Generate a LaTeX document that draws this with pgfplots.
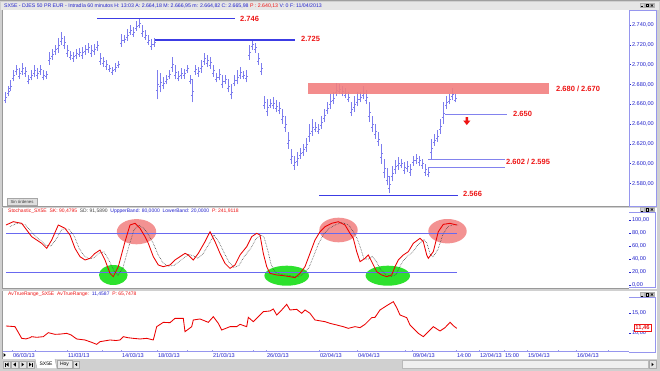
\documentclass[border=0pt]{standalone}
\usepackage{pgfplots}
\usepackage{pgfplotstable}
\pgfplotsset{compat=1.18}
\usepackage{fontspec}
\setmainfont{Liberation Sans}
\definecolor{winbg}{RGB}{208,208,208}
\definecolor{hdrbg}{RGB}{230,230,230}
\definecolor{barcol}{RGB}{125,125,238}
\definecolor{lvdark}{RGB}{60,60,228}
\definecolor{lvlight}{RGB}{130,130,238}
\definecolor{bandcol}{RGB}{105,105,240}
\definecolor{axblue}{RGB}{35,35,205}
\definecolor{frameblue}{RGB}{150,150,238}
\definecolor{stred}{RGB}{235,0,0}
\definecolor{ellred}{RGB}{242,128,128}
\definecolor{ellgreen}{RGB}{45,225,45}
\definecolor{txtred}{RGB}{238,20,20}
\definecolor{dgray}{RGB}{70,70,70}
\newcommand{\fs}[1]{\fontsize{#1}{#1}\selectfont}

\pgfplotstableread{
x lo hi
5 2661 2672
8 2668 2678
10 2673 2684
13 2683 2695
16 2690 2700
19 2685 2697
22 2690 2702
25 2688 2698
28 2680 2690
31 2684 2695
34 2688 2700
37 2686 2697
40 2690 2700
43 2684 2695
46 2686 2694
49 2700 2713
52 2705 2716
55 2710 2720
58 2712 2727
61 2720 2733
64 2716 2729
67 2708 2720
70 2705 2714
73 2703 2713
76 2706 2716
79 2708 2717
82 2706 2718
85 2710 2720
88 2712 2722
91 2708 2720
94 2710 2721
97 2714 2724
100 2700 2712
103 2698 2708
106 2695 2705
109 2693 2700
112 2690 2698
115 2693 2702
118 2697 2704
121 2718 2731
124 2722 2730
127 2724 2736
130 2730 2740
133 2728 2738
136 2734 2744
139 2737 2747
142 2728 2740
145 2725 2735
148 2720 2730
151 2715 2726
154 2718 2727
157 2665 2695
160 2672 2692
163 2675 2688
166 2680 2690
169 2685 2695
172 2693 2708
175 2685 2700
178 2683 2694
181 2686 2697
184 2686 2696
187 2692 2700
190 2680 2690
192 2662 2685
195 2690 2700
198 2688 2698
201 2692 2705
204 2700 2712
207 2698 2710
210 2696 2708
213 2688 2700
216 2682 2692
219 2684 2696
222 2676 2690
225 2680 2690
228 2672 2685
231 2665 2680
234 2678 2690
237 2680 2695
240 2686 2698
243 2685 2694
246 2682 2695
249 2705 2720
252 2715 2726
255 2712 2722
258 2700 2712
261 2690 2702
264 2655 2668
267 2648 2665
270 2656 2665
273 2655 2667
276 2652 2664
279 2650 2662
282 2640 2655
285 2632 2648
288 2615 2632
291 2600 2615
294 2594 2608
297 2598 2612
300 2605 2616
303 2608 2620
306 2612 2626
309 2622 2640
312 2628 2645
315 2632 2642
318 2630 2640
321 2635 2648
324 2642 2655
327 2650 2662
330 2655 2670
333 2660 2672
336 2668 2681
339 2670 2680
342 2668 2678
345 2666 2676
348 2662 2672
351 2648 2662
354 2652 2668
357 2658 2672
360 2662 2672
363 2665 2678
366 2660 2674
369 2642 2662
372 2632 2648
375 2625 2640
378 2618 2632
381 2600 2620
384 2585 2605
387 2578 2596
389 2570 2588
392 2582 2598
395 2590 2604
398 2594 2607
401 2596 2605
404 2590 2602
407 2592 2603
410 2588 2600
413 2598 2608
416 2600 2610
419 2598 2608
422 2595 2605
425 2588 2600
428 2586 2596
431 2605 2625
434 2618 2630
437 2622 2634
440 2630 2645
443 2640 2662
446 2655 2668
449 2660 2670
452 2664 2676
455 2662 2670
}\pricebars

\begin{document}
\begin{tikzpicture}
\begin{scope}[x=1pt,y=-1pt]
\useasboundingbox (0,0) rectangle (660,371);
\fill[winbg] (0,0) rectangle (660,371);
\fill[hdrbg] (1,1.6) rectangle (659,10);
\draw[gray!75, line width=0.6pt] (0,0.8) -- (660,0.8);
% panels
\fill[white] (3,10) rectangle (657,206);
\fill[white] (3,208) rectangle (657,288.5);
\fill[white] (3,291) rectangle (657,358.5);
% frames
\draw[gray!80, line width=0.5pt] (2.7,10) -- (2.7,206.5) -- (629,206.5);
\draw[gray!80, line width=0.5pt] (2.7,208) -- (2.7,288.5) -- (629,288.5);
\draw[gray!80, line width=0.5pt] (2.7,291) -- (2.7,358.5);
\draw[frameblue, line width=0.6pt] (629,10.3) -- (656.5,10.3) -- (656.5,206.5) -- (629,206.5);
\draw[frameblue, line width=0.6pt] (629,212) -- (655.5,212) -- (655.5,287.5) -- (629,287.5);
\draw[frameblue, line width=0.6pt] (629,297.5) -- (655.5,297.5) -- (655.5,352) -- (629,352);
% window buttons
\foreach \yy in {3.5,207.5,292.5}{
  \foreach \xx in {640,645,650}{
    \fill[gray!35] (\xx,\yy) rectangle ++(4,4);
    \draw[gray!60, line width=0.3pt] (\xx,\yy) rectangle ++(4,4);
  }
  \draw[black, line width=0.4pt] (641,\yy+3.2) -- (643,\yy+3.2);
  \draw[black, line width=0.4pt] (645.8,\yy+0.8) rectangle (648.2,\yy+3.2);
  \draw[black, line width=0.4pt] (650.8,\yy+0.8) -- (653.2,\yy+3.2) (650.8,\yy+3.2) -- (653.2,\yy+0.8);
}
% ellipses in stochastic panel
\fill[ellred, opacity=0.85] (136.5,231.7) ellipse [x radius=19.7, y radius=12.6];
\fill[ellred, opacity=0.85] (338.5,230) ellipse [x radius=19.2, y radius=12.3];
\fill[ellred, opacity=0.85] (447.5,231.2) ellipse [x radius=19.2, y radius=12.2];
\fill[ellgreen] (113.3,275) ellipse [x radius=14.3, y radius=10];
\fill[ellgreen] (286.7,275.7) ellipse [x radius=22.3, y radius=10];
\fill[ellgreen] (387.8,275.7) ellipse [x radius=22.2, y radius=10];
% header text
\node[anchor=west, inner sep=0, font=\fs{5.2}] at (4,5.9) {\textcolor{axblue}{SX5E - DJES 50 PR EUR - Intradía 60 minutos H: 13:03 A: 2.664,18 M: 2.666,95 m: 2.664,82 C: 2.665,98} \textcolor{txtred}{P : 2.640,13} \textcolor{axblue}{V: 0 F: 11/04/2013}};
\node[anchor=west, inner sep=0, font=\fs{5}] at (8,211.3) {\textcolor{txtred}{Stochastic\_SX5E\ \ SK: 90,4795}\ \ \textcolor{dgray}{SD: 91,5890}\ \ \textcolor{axblue}{UppperBand: 80,0000\ \ LowerBand: 20,0000}\ \ \textcolor{txtred}{P: 241,9118}};
\node[anchor=west, inner sep=0, font=\fs{5}] at (8,294.3) {\textcolor{txtred}{AvTrueRange\_SX5E\ \ AvTrueRange:}\ \ \textcolor{axblue}{11,4587}\ \ \textcolor{txtred}{P: 65,7478}};
% Sin ordenes button
\fill[gray!25] (7,198.5) rectangle (37,205);
\draw[gray!70, line width=0.4pt] (7,198.5) rectangle (37,205);
\node[inner sep=0, font=\fs{4.3}, text=black!75] at (22,201.8) {Sin órdenes};
% tab bar
\fill[winbg] (0,358.5) rectangle (660,371);
\fill[black] (3.5,353) -- (5.8,355) -- (3.5,357) -- cycle;
\foreach \xx in {3,11,19,27}{
  \fill[gray!20] (\xx,361) rectangle ++(7,7);
  \draw[gray!65, line width=0.3pt] (\xx,361) rectangle ++(7,7);
}
\fill[black] (5,362.5) rectangle (5.6,366.5); \fill[black] (8.5,362.5) -- (6,364.5) -- (8.5,366.5) -- cycle;
\fill[black] (15.8,362.5) -- (13.3,364.5) -- (15.8,366.5) -- cycle;
\fill[black] (21.5,362.5) -- (24,364.5) -- (21.5,366.5) -- cycle;
\fill[black] (29,362.5) -- (31.5,364.5) -- (29,366.5) -- cycle; \fill[black] (32,362.5) rectangle (32.6,366.5);
\fill[white] (35,359) -- (55,359) -- (57,368.5) -- (37,368.5) -- cycle;
\draw[gray!70, line width=0.4pt] (35,359) -- (37,368.5) -- (57,368.5) -- (55,359);
\node[inner sep=0, font=\fs{5}] at (46,363.8) {SX5E};
\fill[gray!15] (57,360) rectangle (72,368.5);
\draw[gray!70, line width=0.4pt] (57,360) rectangle (72,368.5);
\node[inner sep=0, font=\fs{5}] at (64.5,364.2) {Hoy};
\fill[gray!20] (73,361) rectangle (79,368);
\draw[gray!65, line width=0.3pt] (73,361) rectangle (79,368);
\fill[black] (77,362.8) -- (75,364.5) -- (77,366.2) -- cycle;
\fill[gray!12] (402,360.5) rectangle (648,368.5);
\draw[gray!55, line width=0.3pt] (402,360.5) rectangle (648,368.5);
\fill[gray!20] (649,360.5) rectangle (656,368.5);
\draw[gray!65, line width=0.3pt] (649,360.5) rectangle (656,368.5);
\fill[black] (651.5,362.7) -- (653.7,364.5) -- (651.5,366.3) -- cycle;
\end{scope}

% ================= MAIN PRICE PANEL =================
\begin{axis}[
  at={(3pt,-206pt)}, anchor=south west, scale only axis,
  width=626pt, height=196pt,
  xmin=3, xmax=629, ymin=2557.2, ymax=2755.2,
  axis x line=none, axis y line*=right,
  y axis line style={frameblue, line width=0.6pt},
  ytick={2580,2600,2620,2640,2660,2680,2700,2720,2740},
  yticklabels={{2.580,00},{2.600,00},{2.620,00},{2.640,00},{2.660,00},{2.680,00},{2.700,00},{2.720,00},{2.740,00}},
  tick align=outside, major tick length=2pt,
  y tick style={axblue, line width=0.5pt},
  yticklabel style={font=\fs{5.6}, text=axblue, inner sep=0.8pt},
]
\addplot[barcol, line width=0.85pt, mark=none,
  quiver={u=0, v=\thisrow{hi}-\thisrow{lo}}]
  table[x=x, y=lo] {\pricebars};
\addplot[barcol, line width=0.7pt, mark=none,
  quiver={u=1.7, v=0}]
  table[x=x, y expr={(\thisrow{lo}+\thisrow{hi})/2}] {\pricebars};
\addplot[barcol, line width=0.7pt, mark=none,
  quiver={u=-1.5, v=0}]
  table[x=x, y expr={\thisrow{lo}+0.3*(\thisrow{hi}-\thisrow{lo})}] {\pricebars};
\fill[ellred, opacity=0.9] (axis cs:308,2670.7) rectangle (axis cs:549,2681.4);
\addplot[lvdark, line width=1.3pt] coordinates {(97,2746.8) (235,2746.8)};
\addplot[lvdark, line width=1.3pt] coordinates {(155,2724.8) (295,2724.8)};
\addplot[lvlight, line width=1pt] coordinates {(445,2650.1) (507,2650.1)};
\addplot[lvlight, line width=1pt] coordinates {(428,2604.3) (505,2604.3)};
\addplot[lvlight, line width=1pt] coordinates {(428,2596.3) (505,2596.3)};
\addplot[lvdark, line width=1.3pt] coordinates {(319,2567.6) (458,2567.6)};
\node[anchor=west, inner sep=0, text=txtred, font=\bfseries\fs{7.5}] at (axis cs:240,2746.6) {2.746};
\node[anchor=west, inner sep=0, text=txtred, font=\bfseries\fs{7.5}] at (axis cs:301,2726) {2.725};
\node[anchor=west, inner sep=0, text=txtred, font=\bfseries\fs{7.5}] at (axis cs:556,2675.8) {2.680 / 2.670};
\node[anchor=west, inner sep=0, text=txtred, font=\bfseries\fs{7.5}] at (axis cs:513,2649.8) {2.650};
\node[anchor=west, inner sep=0, text=txtred, font=\bfseries\fs{7.5}] at (axis cs:506,2601.3) {2.602 / 2.595};
\node[anchor=west, inner sep=0, text=txtred, font=\bfseries\fs{7.5}] at (axis cs:463,2569) {2.566};
\fill[txtred] (axis cs:465.6,2647) -- (axis cs:468,2647) -- (axis cs:468,2643.5) -- (axis cs:470.4,2643.5) -- (axis cs:466.8,2639) -- (axis cs:463.2,2643.5) -- (axis cs:465.6,2643.5) -- cycle;
\end{axis}

% ================= STOCHASTIC PANEL =================
\begin{axis}[
  at={(3pt,-288.5pt)}, anchor=south west, scale only axis,
  width=626pt, height=80.5pt,
  xmin=3, xmax=629, ymin=-5.38, ymax=118.46,
  axis x line=none, axis y line*=right,
  y axis line style={draw=none},
  ytick={0,20,40,60,80,100},
  yticklabels={{0,00},{20,00},{40,00},{60,00},{80,00},{100,00}},
  tick align=outside, major tick length=2pt,
  y tick style={axblue, line width=0.5pt},
  yticklabel style={font=\fs{5.6}, text=axblue, inner sep=0.8pt},
]
\addplot[bandcol, line width=0.7pt] coordinates {(6,80) (457,80)};
\addplot[bandcol, line width=0.7pt] coordinates {(6,20) (457,20)};
\addplot[dgray, densely dotted, line width=0.6pt] coordinates {
(10,90) (17,95) (25,93) (31,83) (36,74) (41,68) (46,61) (51,60) (56,70) (62,86) (69,86) (74,76) (79,57) (84,45) (89,40) (94,42) (99,49) (104,51) (109,38) (114,22) (118,15) (123,27) (129,60) (134,85) (139,92) (144,87) (149,76) (153,65) (158,47) (163,34) (168,29) (174,30) (179,36) (184,42) (189,47) (193,45) (198,41) (203,48) (209,63) (214,77) (219,66) (224,50) (229,35) (234,27) (239,30) (244,43) (251,57) (256,71) (261,77) (264,74) (268,52) (271,32) (275,20) (281,16) (288,15) (294,13) (299,13) (304,18) (309,27) (314,46) (319,65) (324,79) (329,87) (336,93) (342,96) (349,92) (354,80) (357,72) (361,55) (364,40) (369,40) (372,44) (376,37) (381,23) (386,16) (391,13) (396,16) (399,26) (403,37) (408,45) (413,51) (418,62) (424,70) (427,64) (430,48) (433,43) (438,55) (443,78) (448,90) (454,93) (459,92)};
\addplot[stred, line width=0.85pt] coordinates {
(6,92.3) (13.3,97.4) (21.7,94.9) (26.7,84.6) (31.7,74.4) (36.7,69.2) (41.7,64.1) (46.7,56.4) (51.7,69.2) (58.3,92.3) (65,87.2) (70,76.9) (75,56.4) (80,43.6) (85,38.5) (90,41) (95,48.7) (100,53.8) (105,38.5) (110,17.9) (113.3,12.8) (118.3,28.2) (125,66.7) (130,92.3) (135,94.9) (140,87.2) (145,74.4) (148.3,64.1) (153.3,43.6) (158.3,30.8) (163.3,28.2) (170,30.8) (175,38.5) (180,43.6) (185,48.7) (188.3,46.2) (193.3,38.5) (198.3,48.7) (205,66.7) (210,82) (215,66.7) (220,48.7) (225,33.3) (230,25.6) (235,30.8) (240,46.2) (246.7,59) (251.7,74.4) (256.7,79.5) (260,76.9) (263.3,48.7) (266.7,28.2) (270,17.9) (276.7,15.4) (283.3,14.4) (290,12.8) (295,11.3) (300,17.9) (305,28.2) (310,48.7) (315,69.2) (320,82) (325,89.7) (331.7,94.9) (338.3,97.4) (345,92.3) (350,79.5) (353.3,71.8) (356.7,51.3) (360,35.9) (365,41) (368.3,46.2) (371.7,35.9) (376.7,20.5) (381.7,15.4) (386.7,12.8) (391.7,15.4) (395,28.2) (398.3,38.5) (403.3,46.2) (408.3,51.3) (413.3,64.1) (420,71.8) (423.3,66.7) (426.7,46.2) (428.3,41) (433.3,51.3) (438.3,82) (443.3,93.3) (450,94.9) (456.7,92.3)};
\end{axis}

% ================= ATR PANEL =================
\begin{axis}[
  at={(3pt,-351.5pt)}, anchor=south west, scale only axis,
  width=626pt, height=60.5pt,
  xmin=3, xmax=629, ymin=5.45, ymax=20.575,
  axis x line*=bottom, axis y line*=right,
  x axis line style={frameblue, line width=0.6pt},
  y axis line style={draw=none},
  ytick={10,15},
  yticklabels={{10,00},{15,00}},
  tick align=outside, major tick length=2pt, minor tick length=1.5pt,
  xtick align=inside,
  y tick style={axblue, line width=0.5pt},
  x tick style={frameblue, line width=0.5pt},
  yticklabel style={font=\fs{5.6}, text=axblue, inner sep=0.8pt},
  xtick={12,67,121,157,212,266,319,357,412,456,479,504,527,576},
  xticklabels={06/03/13,11/03/13,14/03/13,18/03/13,21/03/13,26/03/13,02/04/13,04/04/13,09/04/13,14:00,12/04/13,15:00,15/04/13,16/04/13},
  minor xtick={35,102,187,253,405,558,608},
  xticklabel style={font=\fs{5.6}, text=axblue, anchor=north west, inner sep=0pt, xshift=0.8pt, yshift=-1.6pt},
  clip=true,
]
\addplot[stred, line width=0.85pt] coordinates {
(6,11.83) (15,11.66) (21.7,8.74) (26,8.6) (30,8.91) (31.7,9.16) (36.7,9.0) (43.3,9.16) (48.3,10.16) (55,9.74) (60,9.8) (66.7,9.99) (71,9.6) (76.7,8.58) (85,8.33) (91.7,7.74) (96.7,7.24) (100,7.91) (110,8.33) (116,8.2) (120,8.33) (123.3,9.16) (128,8.9) (133.3,8.74) (140,8.58) (146.7,8.74) (153.3,8.33) (156.7,11.66) (163.3,12.74) (170,12.66) (175,13.74) (183.3,13.74) (185,10.41) (191.7,11.66) (193.3,13.33) (200,13.58) (205,13.08) (208.3,12.74) (213.3,14.16) (218.3,12.49) (221.7,10.83) (230,11.66) (236.7,11.66) (240,12.24) (246.7,11.66) (248.3,13.99) (253.3,12.91) (256.7,13.74) (260,14.58) (263.3,15.41) (270,15.58) (273.3,16.08) (276.7,14.58) (281.7,15.83) (286.7,17.24) (290,15.83) (296.7,15.99) (301.7,15.0) (305,15.83) (310,15.0) (315,13.33) (325,12.91) (330,12.49) (336.7,12.08) (343.3,11.66) (348.3,11.24) (355,11.66) (360,11.41) (365,12.24) (371.7,13.91) (375,13.99) (380,15.83) (386.7,16.91) (393.3,17.91) (396.7,16.41) (400,14.58) (406.7,13.91) (410,12.08) (418.3,10.0) (423.3,9.16) (428.3,10.41) (433.3,11.66) (440,10.58) (445,11.41) (450,12.74) (453.3,11.91) (456.7,11.24)};
\end{axis}

\begin{scope}[x=1pt,y=-1pt]
\node[draw=txtred, fill=white, line width=0.5pt, inner xsep=1.2pt, inner ysep=0.8pt, text=txtred, font=\bfseries\fs{5.8}] at (642.5,327.8) {11,46};
\end{scope}
\end{tikzpicture}
\end{document}
